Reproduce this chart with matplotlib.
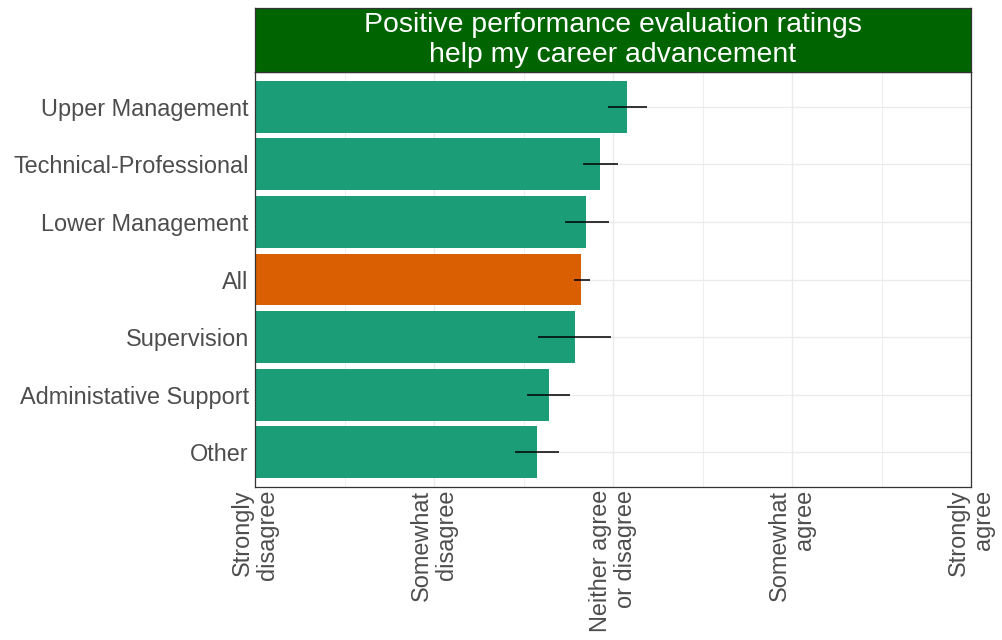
import matplotlib
matplotlib.use("Agg")
import matplotlib.pyplot as plt
from matplotlib.ticker import FixedLocator

plt.rcParams['font.family'] = ['Liberation Sans', 'DejaVu Sans']

groups = ["Upper Management", "Technical-Professional", "Lower Management", "All",
          "Supervision", "Administative Support", "Other"]
means = [3.08, 2.93, 2.85, 2.82, 2.785, 2.64, 2.575]
ci_low = [2.97, 2.83, 2.73, 2.78, 2.58, 2.52, 2.455]
ci_high = [3.19, 3.03, 2.975, 2.87, 2.99, 2.76, 2.70]
scale_labels = ["Strongly\ndisagree", "Somewhat\ndisagree", "Neither agree\nor disagree",
                "Somewhat\nagree", "Strongly\nagree"]
scale_values = [1, 2, 3, 4, 5]
title = "Positive performance evaluation ratings\nhelp my career advancement"

teal = "#1B9E77"
orange = "#D95F02"
strip_green = "#006400"
grid_col = "#EBEBEB"
text_col = "#4D4D4D"
border_col = "#333333"

fig = plt.figure(figsize=(10.02, 6.40), dpi=100)
W, H = 1002, 640
left, right, top, bottom = 255, 971, 72, 487
ax = fig.add_axes([left / W, 1 - bottom / H, (right - left) / W, (bottom - top) / H])

n = len(groups)
ypos = list(range(n))
colors = [orange if g == "All" else teal for g in groups]

ax.barh(ypos, [m - 1 for m in means], left=1, height=0.9, color=colors, zorder=2)
for y, lo, hi in zip(ypos, ci_low, ci_high):
    ax.plot([lo, hi], [y, y], color="black", lw=1.3, alpha=0.85, zorder=3,
            solid_capstyle="butt")

ax.set_xlim(1, 5)
ax.set_ylim(n - 1 + 0.6, -0.6)
ax.set_yticks(ypos)
ax.set_yticklabels(groups, fontsize=16.9, color=text_col)
ax.set_xticks(scale_values)
ax.set_xticklabels(scale_labels, rotation=90, fontsize=16.9, color=text_col,
                   ha="center", va="top", multialignment="right", linespacing=1.1)
ax.xaxis.set_minor_locator(FixedLocator([1.5, 2.5, 3.5, 4.5]))
ax.tick_params(axis="both", which="both", length=0)
ax.tick_params(axis="x", pad=2)
ax.tick_params(axis="y", pad=4.5)

ax.grid(True, which="major", axis="both", color=grid_col, lw=1.0, zorder=0)
ax.grid(True, which="minor", axis="x", color=grid_col, lw=0.6, zorder=0)
ax.set_axisbelow(True)
for s in ax.spines.values():
    s.set_color(border_col)
    s.set_linewidth(0.9)

# facet-style title strip above the panel
strip_top = 8
sax = fig.add_axes([left / W, 1 - top / H, (right - left) / W, (top - strip_top) / H])
sax.set_facecolor(strip_green)
sax.set_xticks([])
sax.set_yticks([])
for s in sax.spines.values():
    s.set_color(border_col)
    s.set_linewidth(0.9)
sax.text(0.5, 0.5, title, transform=sax.transAxes, ha="center", va="center",
         color="white", fontsize=20.4, linespacing=1.22)

fig.savefig("out.png", dpi=100)
